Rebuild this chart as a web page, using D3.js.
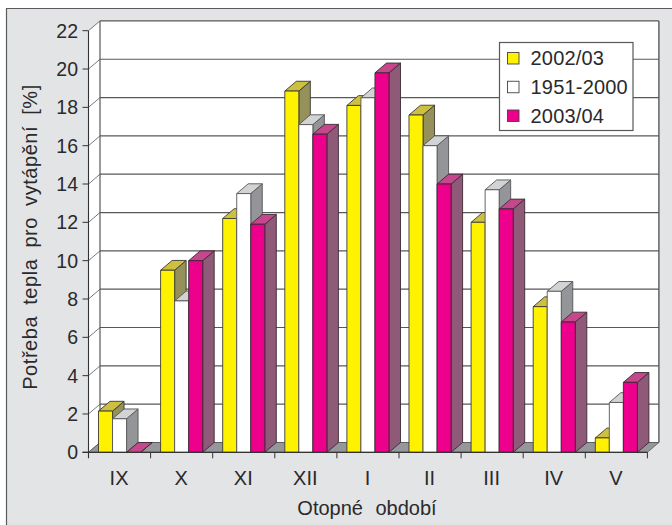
<!DOCTYPE html>
<html><head><meta charset="utf-8">
<script src="https://cdn.jsdelivr.net/npm/d3@7"></script>
<style>
html,body{margin:0;padding:0;background:#fff}
svg{display:block}
text{font-family:"Liberation Sans",Arial,sans-serif;fill:#2a2a2c}
</style></head><body>
<div id="c"></div>
<script>
const categories=["IX","X","XI","XII","I","II","III","IV","V"];
const seriesNames=["2002/03","1951-2000","2003/04"];
const s2002=[2.15,9.5,12.2,18.85,18.1,17.6,12.0,7.6,0.75];
const s1951=[1.75,7.9,13.5,17.1,18.5,16.0,13.7,8.4,2.6];
const s2003=[0,10.0,11.9,16.6,19.8,14.0,12.7,6.8,3.65];
const yTicks=[0,2,4,6,8,10,12,14,16,18,20,22];
const allSeries=[s2002,s1951,s2003];
const colors=[
 {front:"#fff200",top:"#cdbf3f",side:"#96905a",stroke:"#3a3a30"},
 {front:"#ffffff",top:"#d2d3d4",side:"#949598",stroke:"#555558"},
 {front:"#ec008c",top:"#c5478c",side:"#8f5a78",stroke:"#3a2a33"}];

const W=672,H=525,dx=11.5,dy=9.8;
const svg=d3.select("#c").append("svg").attr("width",W).attr("height",H);
svg.append("rect").attr("x",6).attr("y",8).attr("width",W-6).attr("height",H-8).attr("fill","#e3e4e6");
svg.append("path").attr("d","M6.5,525V8.5H672").attr("fill","none").attr("stroke","#5a5a5c").attr("stroke-width",1.2);

const x0=d3.scaleBand().domain(categories).range([88.5,647.4]).paddingInner(0.322).paddingOuter(0.161);
const x1=d3.scaleBand().domain(d3.range(3)).range([0,x0.bandwidth()]);
const y=d3.scaleLinear().domain([0,22]).range([452.3,30.7]);
const xLeft=88.5,xRight=647.4,yBase=y(0),yTop=y(22);
const line=d3.line();
const poly=(pts,fill,stroke,sw)=>svg.append("path").attr("d",line(pts)+"Z").attr("fill",fill).attr("stroke",stroke||"none").attr("stroke-width",sw||1).attr("stroke-linejoin","round");

// walls and floor
poly([[xLeft+dx,yTop-dy],[xRight+dx,yTop-dy],[xRight+dx,yBase-dy],[xLeft+dx,yBase-dy]],"#fff");
poly([[xLeft,yTop],[xLeft+dx,yTop-dy],[xLeft+dx,yBase-dy],[xLeft,yBase]],"#fff");
const gridC="#58585a";
yTicks.forEach(t=>{
  svg.append("line").attr("x1",xLeft+dx).attr("x2",xRight+dx).attr("y1",y(t)-dy).attr("y2",y(t)-dy).attr("stroke",gridC).attr("stroke-width",1.2);
  svg.append("line").attr("x1",xLeft).attr("x2",xLeft+dx).attr("y1",y(t)).attr("y2",y(t)-dy).attr("stroke",gridC).attr("stroke-width",.8);
  svg.append("line").attr("x1",xLeft-6).attr("x2",xLeft).attr("y1",y(t)).attr("y2",y(t)).attr("stroke","#333").attr("stroke-width",1);
  svg.append("text").attr("x",78).attr("y",y(t)+7).attr("text-anchor","end").attr("font-size",19.5).text(t);
});
poly([[xLeft,yBase],[xLeft+dx,yBase-dy],[xRight+dx,yBase-dy],[xRight,yBase]],"#96979a",gridC,.8);
svg.append("line").attr("x1",xLeft+dx).attr("x2",xLeft+dx).attr("y1",yTop-dy).attr("y2",yBase-dy).attr("stroke",gridC).attr("stroke-width",1.2);
svg.append("line").attr("x1",xRight+dx).attr("x2",xRight+dx).attr("y1",yTop-dy).attr("y2",yBase-dy).attr("stroke",gridC).attr("stroke-width",1.4);

// bars
categories.forEach((c,i)=>{
  allSeries.forEach((vals,s)=>{
    const v=vals[i],a=x0(c)+x1(s),b=a+x1.bandwidth(),yt=y(v),k=colors[s];
    poly([[b,yt],[b+dx,yt-dy],[b+dx,yBase-dy],[b,yBase]],k.side,k.stroke,.9);
    poly([[a,yt],[a+dx,yt-dy],[b+dx,yt-dy],[b,yt]],k.top,k.stroke,.9);
    if(v>0) poly([[a,yt],[b,yt],[b,yBase],[a,yBase]],k.front,k.stroke,.9);
  });
});

// axes
svg.append("line").attr("x1",xLeft).attr("x2",xLeft).attr("y1",yTop).attr("y2",yBase+6).attr("stroke","#333").attr("stroke-width",1.1);
svg.append("line").attr("x1",xLeft-6).attr("x2",xRight).attr("y1",yBase).attr("y2",yBase).attr("stroke","#333").attr("stroke-width",1.2);
categories.forEach((c,i)=>{
  const xr=x0(c)+x0.bandwidth()+x0.step()*x0.paddingOuter();
  svg.append("line").attr("x1",xr).attr("x2",xr).attr("y1",yBase).attr("y2",yBase+6).attr("stroke","#333").attr("stroke-width",1);
  svg.append("text").attr("x",x0(c)+x0.bandwidth()/2-.5).attr("y",484.5).attr("text-anchor","middle").attr("font-size",20).text(c);
});
svg.append("text").attr("x",367).attr("y",515).attr("text-anchor","middle").attr("font-size",20).attr("word-spacing",7).text("Otopné období");
svg.append("text").attr("transform","translate(37,237) rotate(-90)").attr("text-anchor","middle").attr("font-size",20).attr("word-spacing",5).attr("letter-spacing",.55).text("Potřeba tepla pro vytápění [%]");

// legend
const lg=svg.append("g");
lg.append("rect").attr("x",499.5).attr("y",42.5).attr("width",133.5).attr("height",88).attr("fill","#fff").attr("stroke","#58585a").attr("stroke-width",1.2);
const ly=d3.scalePoint().domain(seriesNames).range([58,115.5]);
seriesNames.forEach((n,i)=>{
  lg.append("rect").attr("x",507.5).attr("y",ly(n)-5.5).attr("width",11.5).attr("height",11.5).attr("fill",colors[i].front).attr("stroke","#444").attr("stroke-width",.9);
  lg.append("text").attr("x",530.5).attr("y",ly(n)+7).attr("font-size",20).attr("letter-spacing",.2).text(n);
});
</script></body></html>
